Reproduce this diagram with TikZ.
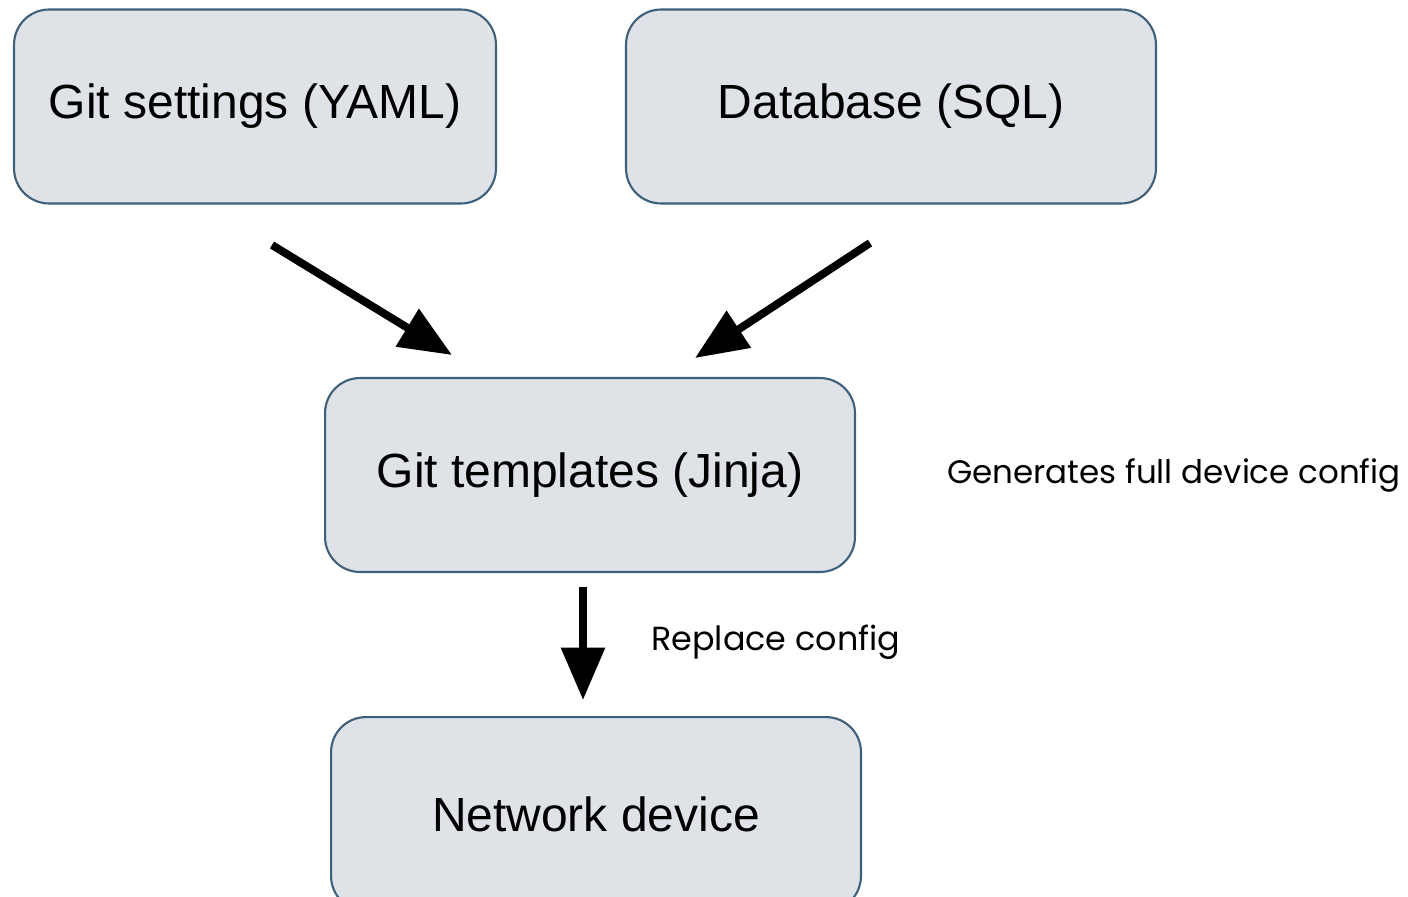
\documentclass[tikz,border=0pt]{standalone}
\usepackage{fontspec}
\setmainfont{Liberation Sans}
\newfontfamily\notefont{Poppins}
\usetikzlibrary{positioning,arrows.meta}

\definecolor{boxfill}{RGB}{223,227,231}
\definecolor{boxline}{RGB}{62,96,122}

\begin{document}
\begin{tikzpicture}[x=0.02cm, y=-0.02cm, node distance=2.56cm,
                      box node/.style={rectangle, rounded corners=0.7cm, draw=boxline, line width=1.2pt,
                                       fill=boxfill, minimum width=10.6cm, minimum height=3.88cm,
                                       inner sep=0pt, font=\fontsize{27.3}{33}\selectfont},
                      note node/.style={inner sep=0pt, font=\notefont\fontsize{19}{23}\selectfont},
                      flow/.style={line width=4.5pt, -{Triangle[length=1.05cm,width=0.85cm]}}]

    \useasboundingbox (0,0) rectangle (1408,896);

    \node[box node, minimum width=9.64cm] (yaml) at (255,106.5) {Git settings (YAML)};
    \node[box node] (sql)    [right=of yaml]                     {Database (SQL)};
    \node[box node] (jinja)  at (590,475)                        {Git templates (Jinja)};
    \node[box node] (device) [below=2.86cm of jinja, xshift=0.12cm] {Network device};

    \node[note node, anchor=west, font=\notefont\fontsize{18.5}{22}\selectfont] (gen)
        [right=1.82cm of jinja] {Generates full device config};
    \node[note node, anchor=west] (rep) at (651,642) {Replace config};

    % arrows stop short of the boxes
    \coordinate (a1) at (272,245);
    \coordinate (b1) at (452,355);
    \coordinate (a2) at (870,243);
    \coordinate (b2) at (695,358);
    \coordinate (a3) at (583,587);
    \coordinate (b3) at (583,700);

    \path
    (a1) edge[flow] (b1)
    (a2) edge[flow] (b2)
    (a3) edge[flow] (b3);
  \end{tikzpicture}
\end{document}
